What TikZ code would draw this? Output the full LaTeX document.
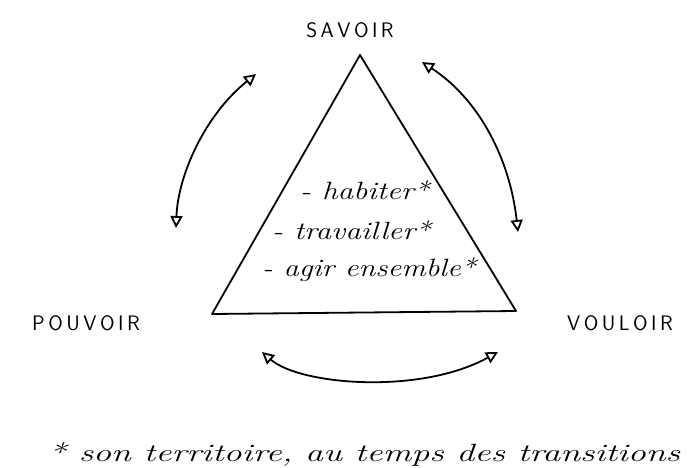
\documentclass[tikz,border=0pt]{standalone}
\usetikzlibrary{arrows.meta}
\begin{document}
\begin{tikzpicture}[x=1pt,y=-1pt,
  ink/.style={line width=1.8pt,line cap=round,line join=round,black},
  dbl/.style={ink,{Triangle[open,length=12pt,width=12pt]}-{Triangle[open,length=12pt,width=12pt]}},
  caps/.style={font=\fontsize{21}{23}\selectfont\sffamily},
  hand/.style={font=\fontsize{25}{28}\selectfont\itshape,anchor=west,inner sep=0pt},
  foot/.style={font=\fontsize{25}{27}\selectfont\itshape,anchor=west,inner sep=0pt}]
\useasboundingbox (0,0) rectangle (696,468);
% triangle corners
\coordinate (apex) at (360,55);
\coordinate (bl) at (212,314);
\coordinate (br) at (516,311);
\draw[ink] (bl) -- (apex) -- (br) -- cycle;
% labels
\node[caps] (savoir) at (350,30) {S\,A\,V\,O\,I\,R};
\node[caps] (pouvoir) at (86,323) {P\,O\,U\,V\,O\,I\,R};
\node[caps] (vouloir) at (620,323) {V\,O\,U\,L\,O\,I\,R};
% list
\node[hand] (l1) at (300,190) {\scalebox{1.25}[1]{- habiter*}};
\node[hand] (l2) at (272,230) {\scalebox{1.25}[1]{- travailler*}};
\node[hand] (l3) at (262,270) {\scalebox{1.22}[1]{- agir ensemble*}};
% arrows
\coordinate (a1) at (256,74);
\coordinate (a2) at (176,228);
\draw[dbl] (a1) .. controls (205,115) and (178,175) .. (a2);
\coordinate (b1) at (422,62);
\coordinate (b2) at (518,232);
\draw[dbl] (b1) .. controls (480,100) and (510,160) .. (b2);
\coordinate (c1) at (262,352);
\coordinate (c2) at (498,352);
\draw[dbl] (c1) .. controls (300,385) and (420,395) .. (c2);
% footnote
\node[foot] (fn) at (48,455) {\scalebox{1.44}[1]{* son territoire, au temps des transitions}};
\end{tikzpicture}
\end{document}
